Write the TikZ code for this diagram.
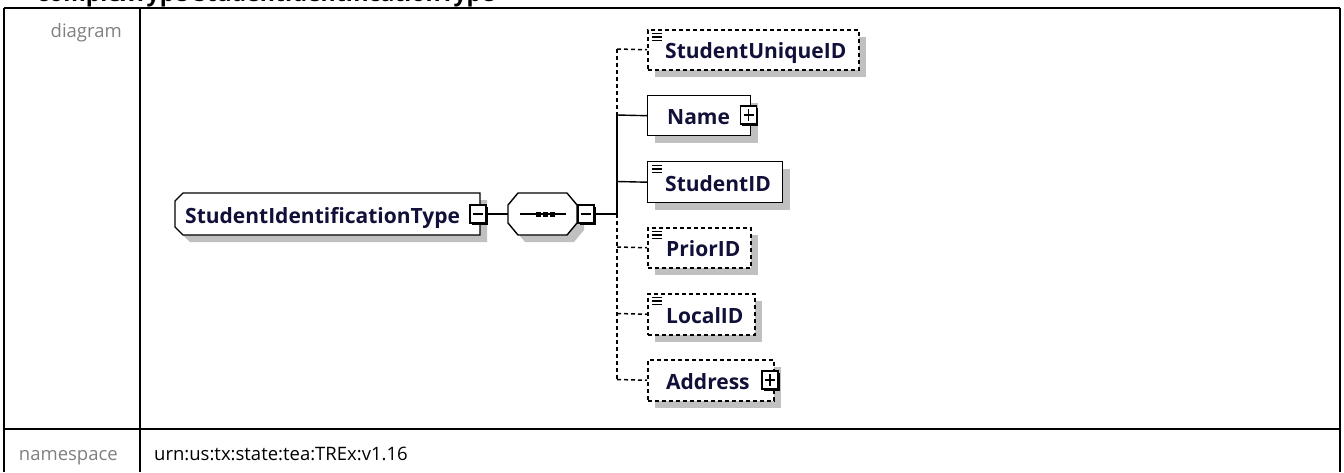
\documentclass[tikz,border=0pt]{standalone}
\usepackage{fontspec}
\setmainfont{Open Sans}
\usetikzlibrary{shadows}
\definecolor{shadowc}{HTML}{C0C0C0}
\definecolor{nametext}{HTML}{101038}
\definecolor{labelgray}{HTML}{808080}
\newcommand\mkicon[1]{%
  \foreach \d in {4.5,8,11.5}{\draw[line width=1.2pt] ([xshift=5pt,yshift=-\d pt]#1.north west) -- ++(10,0);}}
\begin{document}
\begin{tikzpicture}[x=1pt,y=-1pt,
  elem/.style={draw=black, line width=1.4pt, fill=white, inner sep=0pt, anchor=north west,
    drop shadow={shadow xshift=7pt, shadow yshift=-7pt, fill=shadowc, opacity=1}},
  opt/.style={elem, line width=1.5pt, dash pattern=on 4pt off 3pt},
  ename/.style={anchor=base west, text=nametext, font=\bfseries\fontsize{21}{25}\selectfont, inner sep=0pt},
  lab/.style={anchor=base east, text=labelgray, font=\fontsize{18.5}{22}\selectfont, inner sep=0pt},
  conn/.style={line width=1.4pt},
  dconn/.style={line width=1.5pt, dash pattern=on 4pt off 3pt},
  pmbox/.style={draw=black, line width=1.1pt, fill=white, minimum width=16pt, minimum height=18pt, inner sep=0pt,
    drop shadow={shadow xshift=1.8pt, shadow yshift=-1.8pt, fill=black, opacity=1}},
  minusbox/.style={pmbox, path picture={\draw[line width=1.2pt] ([xshift=3pt]path picture bounding box.west) -- ([xshift=-3pt]path picture bounding box.east);}},
  plusbox/.style={pmbox, path picture={\draw[line width=1.2pt] ([xshift=3pt]path picture bounding box.west) -- ([xshift=-3pt]path picture bounding box.east);
     \draw[line width=1.2pt] ([yshift=-3pt]path picture bounding box.north) -- ([yshift=3pt]path picture bounding box.south);}}
]
\useasboundingbox (0,0) rectangle (1344,472);
\fill[white] (0,0) rectangle (1344,472);
% clipped title (cut off at the top edge, as in the source)
\begin{scope}
  \clip (0,0) rectangle (1344,472);
  \node[anchor=base west, inner sep=0pt, font=\bfseries\fontsize{23}{27}\selectfont] (title) at (37,1.5) {complexType StudentIdentificationType};
\end{scope}
% table
\draw[line width=2.2pt] (4,8) -- (1340,8);
\draw[line width=1.8pt] (4,8) -- (4,472);
\draw[line width=1.8pt] (140,8) -- (140,472);
\draw[line width=1.8pt] (1340,8) -- (1340,472);
\draw[line width=1.8pt] (4,429) -- (1340,429);
\node[lab] (ldiag) at (122,37) {diagram};
\node[lab] (lns) at (118,460) {namespace};
\node[anchor=base west, inner sep=0pt, font=\fontsize{18.5}{22}\selectfont] (ns) at (154,460) {urn:us:tx:state:tea:TREx:v1.16};
% main element
\node[minimum width=305pt, minimum height=42pt, inner sep=0pt] (sit) at (327.5,214) {};
\begin{scope}[shift={(7,7)}]
  \fill[shadowc] (183,193) -- (480,193) -- (480,235) -- (183,235) -- (175,227) -- (175,201) -- cycle;
\end{scope}
\draw[line width=1.4pt, fill=white] (183,193) -- (480,193) -- (480,235) -- (183,235) -- (175,227) -- (175,201) -- cycle;
\node[ename] (sitt) at (185,223) {StudentIdentificationType};
% sequence compositor
\node[minimum width=69pt, minimum height=42pt, inner sep=0pt] (seq) at (542.5,214) {};
\begin{scope}[shift={(7,7)}]
  \fill[shadowc] (518,193) -- (567,193) -- (577,205) -- (577,223) -- (567,235) -- (518,235) -- (508,223) -- (508,205) -- cycle;
\end{scope}
\draw[line width=1.4pt, fill=white] (518,193) -- (567,193) -- (577,205) -- (577,223) -- (567,235) -- (518,235) -- (508,223) -- (508,205) -- cycle;
\draw[line width=1.4pt] (520,214) -- (566,214);
\foreach \xx in {535.5,542.5,549.5}{\fill[black] (\xx,212) rectangle ++(5,4.5);}
% minus boxes
\node[minusbox] (m1) at (478,214) {};
\node[minusbox] (m2) at (586,214) {};
\draw[conn] (m1.east) -- (seq.west);
% bus
\coordinate (j) at (617,214);
\coordinate (b1) at (617,49);
\coordinate (b2) at (617,115);
\coordinate (b3) at (617,181.5);
\coordinate (b4) at (617,247);
\coordinate (b5) at (617,313.5);
\coordinate (b6) at (617,379.5);
\draw[conn] (m2.east) -- (j);
\draw[dconn] (b1) -- (b2);
\draw[conn] (b2) -- (j);
\draw[dconn] (j) -- (b6);
% children
\node[opt, minimum width=211pt, minimum height=40pt] (su) at (647,29) {};
\node[elem, minimum width=103pt, minimum height=40pt] (nm) at (647,95) {};
\node[elem, minimum width=135pt, minimum height=41pt] (sid) at (647,161) {};
\node[opt, minimum width=103pt, minimum height=40pt] (pr) at (647,227) {};
\node[opt, minimum width=107pt, minimum height=41pt] (lc) at (647,293) {};
\node[opt, minimum width=126pt, minimum height=41pt] (ad) at (647,359) {};
\draw[dconn] (b1) -- (su.west);
\draw[conn] (b2) -- (nm.west);
\draw[conn] (b3) -- (sid.west);
\draw[dconn] (b4) -- (pr.west);
\draw[dconn] (b5) -- (lc.west);
\draw[dconn] (b6) -- (ad.west);
\mkicon{su}
\mkicon{sid}
\mkicon{pr}
\mkicon{lc}
\node[ename] (tsu) at (665,58.5) {StudentUniqueID};
\node[ename] (tnm) at (667,124.5) {Name};
\node[ename] (tsid) at (665,191) {StudentID};
\node[ename] (tpr) at (666,256.5) {PriorID};
\node[ename] (tlc) at (666,323) {LocalID};
\node[ename] (tad) at (666,389) {Address};
\node[plusbox] (nmp) at (748.5,115) {};
\node[plusbox] (adp) at (770,380) {};
\end{tikzpicture}
\end{document}
